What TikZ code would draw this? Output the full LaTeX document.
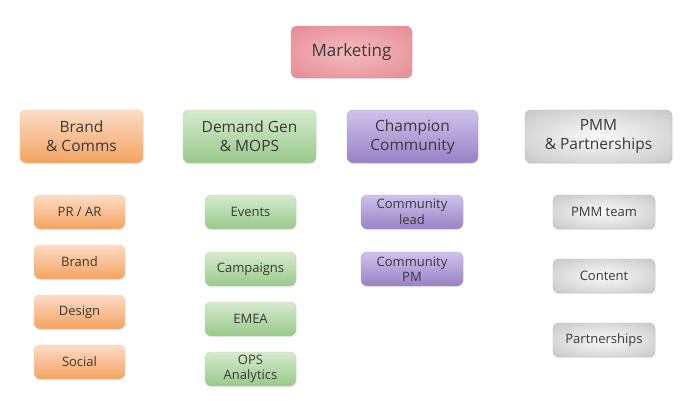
\documentclass[tikz,border=0pt]{standalone}
\usepackage{fontspec}
\setmainfont{Open Sans}
\usepackage{tikz}
\usetikzlibrary{shadows}

\definecolor{txt}{HTML}{383838}
\definecolor{redA}{HTML}{F3BCC0}
\definecolor{redM}{HTML}{E48890}
\definecolor{redB}{HTML}{D96670}
\definecolor{orA}{HTML}{FCDCC6}
\definecolor{orB}{HTML}{F3A360}
\definecolor{grA}{HTML}{D6EBCE}
\definecolor{grB}{HTML}{98C98A}
\definecolor{puA}{HTML}{CFC2EC}
\definecolor{puB}{HTML}{9782C6}
\definecolor{gyA}{HTML}{FAFAFA}
\definecolor{gyM}{HTML}{C4C4C4}
\definecolor{gyB}{HTML}{A4A4A4}

\pgfdeclareradialshading{redglow}{\pgfpoint{0bp}{0bp}}{color(0bp)=(redA); color(38bp)=(redM); color(71bp)=(redB)}
\pgfdeclareradialshading{grayglow}{\pgfpoint{0bp}{0bp}}{color(0bp)=(gyA); color(38bp)=(gyM); color(71bp)=(gyB)}

\tikzset{
	box/.style={shape=rectangle,rounded corners=6pt,align=center,text=txt,
		inner sep=0pt,font=\fontsize{13}{15.5}\selectfont,
		drop shadow={opacity=0.12,shadow xshift=0.6pt,shadow yshift=-1pt}},
	head/.style={box,minimum height=53pt,font=\fontsize{15.5}{19}\selectfont},
	item/.style={box,minimum height=34pt},
	redbox/.style={shading=redglow,draw=redB!70},
	orbox/.style={top color=orA,bottom color=orB,draw=orB!60},
	grbox/.style={top color=grA,bottom color=grB,draw=grB!70},
	pubox/.style={top color=puA,bottom color=puB,draw=puB!70},
	gybox/.style={shading=grayglow,draw=gyB!80},
}

\begin{document}
\begin{tikzpicture}[x=1pt,y=-1pt]
	\useasboundingbox[fill=white] (0,0) rectangle (688,400);
	
	\node[head,redbox,minimum width=121pt,minimum height=52pt,font=\fontsize{17}{20}\selectfont] (mkt) at (351.5, 52) {Marketing};
	
	\node[head,orbox,minimum width=123pt] (brand) at (81.5, 136.5) {Brand\\\& Comms};
	\node[head,grbox,minimum width=133pt] (demand) at (249.5, 136.5) {Demand Gen\\\& MOPS};
	\node[head,pubox,minimum width=131pt] (champ) at (412.5, 136.5) {Champion\\Community};
	\node[head,gybox,minimum width=147pt] (pmm) at (598.5, 136.5) {PMM\\\& Partnerships};
	
	\node[item,orbox,minimum width=91pt] (prar) at (79.5, 212) {PR / AR};
	\node[item,orbox,minimum width=91pt] (brnd) at (79.5, 262) {Brand};
	\node[item,orbox,minimum width=91pt] (dsgn) at (79.5, 312) {Design};
	\node[item,orbox,minimum width=91pt] (socl) at (79.5, 362) {Social};
	
	\node[item,grbox,minimum width=91pt] (evts) at (250.5, 212) {Events};
	\node[item,grbox,minimum width=91pt] (camp) at (250.5, 269) {Campaigns};
	\node[item,grbox,minimum width=91pt] (emea) at (250.5, 319) {EMEA};
	\node[item,grbox,minimum width=91pt] (opsa) at (250.5, 369) {OPS\\Analytics};
	
	\node[item,pubox,minimum width=102pt] (clead) at (412, 212) {Community\\lead};
	\node[item,pubox,minimum width=102pt] (cpm) at (412, 269) {Community\\PM};
	
	\node[item,gybox,minimum width=102pt] (pteam) at (604, 212) {PMM team};
	\node[item,gybox,minimum width=102pt] (cont) at (604, 276) {Content};
	\node[item,gybox,minimum width=102pt] (partn) at (604, 340) {Partnerships};
	
\end{tikzpicture}
\end{document}
